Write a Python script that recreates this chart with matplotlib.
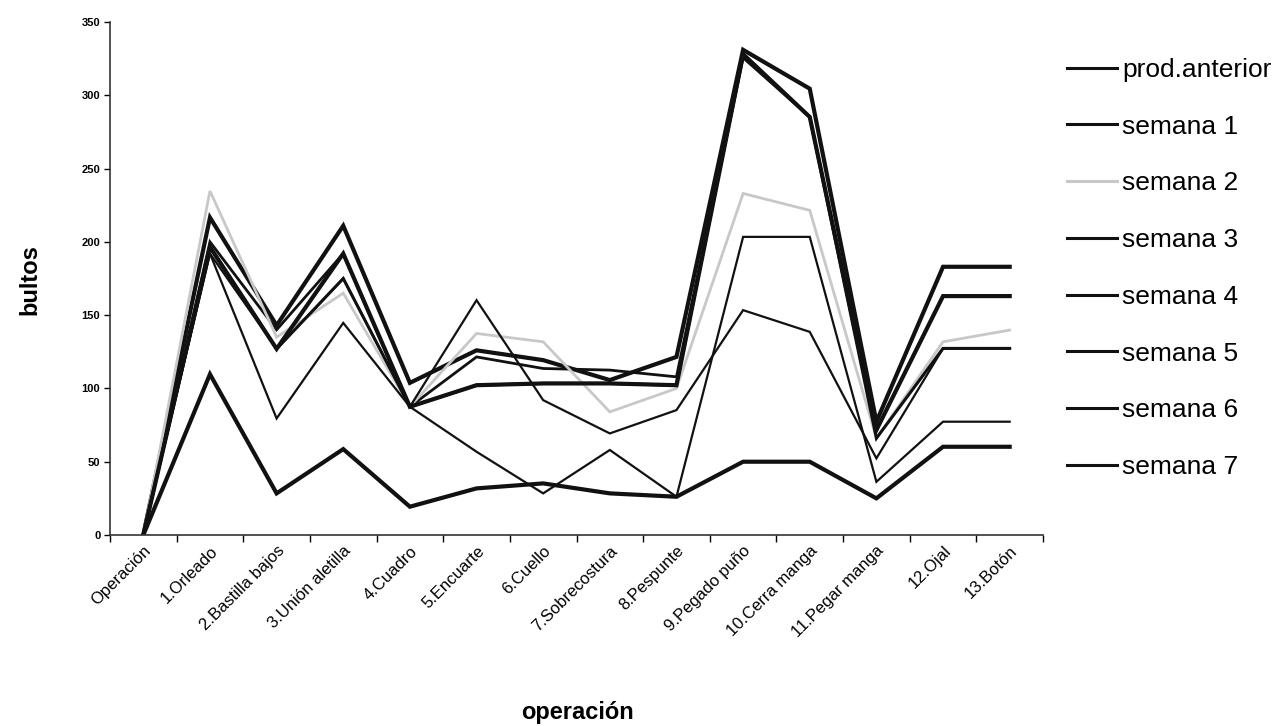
import matplotlib
matplotlib.use('Agg')
import matplotlib.pyplot as plt
import numpy as np

plt.rcParams['font.family'] = ['Liberation Sans', 'DejaVu Sans']

operaciones = ['Operación', '1.Orleado', '2.Bastilla bajos', '3.Unión aletilla',
               '4.Cuadro', '5.Encuarte', '6.Cuello', '7.Sobrecostura',
               '8.Pespunte', '9.Pegado puño', '10.Cerra manga', '11.Pegar manga',
               '12.Ojal', '13.Botón']

prod_anterior = [0, 216.6, 143, 211, 103.8, 126, 119.3, 105.7, 121.5, 331, 304.5, 77.3, 183, 183]
semana_1 = [0, 200, 140, 192, 87.5, 121.5, 113.6, 112.5, 107.9, 325.6, 285.2, 71.6, 163, 163]
semana_2 = [0, 234.7, 135, 165, 87.5, 137.5, 131.8, 84, 100, 233, 221.5, 66, 131.8, 139.8]
semana_3 = [0, 192, 79.5, 144.7, 87.5, 160.2, 92, 69.3, 85.2, 153.4, 138.6, 52.3, 127.3, 127.3]
semana_4 = [0, 196.5, 127, 175, 87.5, 102.2, 103.4, 103.4, 102.2, 328, 285.2, 66, 127.3, 127.3]
semana_5 = [0, 196.5, 127, 192, 87.5, 102.2, 103.4, 103.4, 102.2, 328, 285.2, 71.6, 163, 163]
semana_6 = [0, 192, 127, 175, 87.5, 56.8, 28.4, 58, 26.1, 203.4, 203.4, 36.3, 77.3, 77.3]
semana_7 = [0, 109.7, 28.4, 58.6, 19.3, 31.8, 35.2, 28.4, 26.1, 50, 50, 25, 60.2, 60.2]

series = [
    ('prod.anterior', prod_anterior, '#111111', 3.0),
    ('semana 1', semana_1, '#111111', 2.0),
    ('semana 2', semana_2, '#c8c8c8', 2.0),
    ('semana 3', semana_3, '#111111', 1.6),
    ('semana 4', semana_4, '#111111', 2.2),
    ('semana 5', semana_5, '#111111', 3.0),
    ('semana 6', semana_6, '#111111', 1.6),
    ('semana 7', semana_7, '#111111', 3.0),
]

fig = plt.figure(figsize=(12.81, 7.26), dpi=100)
ax = fig.add_axes([110 / 1281, 1 - 535 / 726, (1043 - 110) / 1281, (535 - 22) / 726])

x = np.arange(len(operaciones))
for name, vals, color, lw in series:
    ax.plot(x, vals, color=color, lw=lw, label=name, solid_joinstyle='miter')

ax.set_xlim(-0.5, len(operaciones) - 0.5)
ax.set_ylim(0, 350)
ax.set_yticks(range(0, 351, 50))
ax.set_yticklabels([str(v) for v in range(0, 351, 50)], fontsize=8, fontweight='bold')
ax.set_xticks(np.arange(-0.5, len(operaciones), 1.0))
ax.set_xticklabels([])
ax.set_xticks(x, minor=True)
ax.set_xticklabels(operaciones, minor=True, rotation=45, ha='right',
                   rotation_mode='anchor', fontsize=12)
ax.tick_params(axis='x', which='minor', length=0, pad=6)
ax.tick_params(axis='x', which='major', length=5, direction='out', width=1)
ax.tick_params(axis='y', length=4, direction='out', width=1, pad=3)

for s in ['top', 'right']:
    ax.spines[s].set_visible(False)
for s in ['left', 'bottom']:
    ax.spines[s].set_linewidth(1.2)
    ax.spines[s].set_color('#333333')

fig.text(577 / 1281, 1 - 712 / 726, 'operación', ha='center', va='center',
         fontsize=17, fontweight='bold')
fig.text(30 / 1281, 1 - 280 / 726, 'bultos', ha='center', va='center',
         fontsize=17, fontweight='bold', rotation=90)

leg = fig.legend(loc='upper left', bbox_to_anchor=(1067 / 1281, 1 - 58 / 726),
                 frameon=False, fontsize=19, handlelength=1.9, handletextpad=0.2,
                 labelspacing=1.24, borderaxespad=0, borderpad=0)
for line in leg.get_lines():
    line.set_linewidth(2.2)

fig.savefig('out.png', dpi=100)
